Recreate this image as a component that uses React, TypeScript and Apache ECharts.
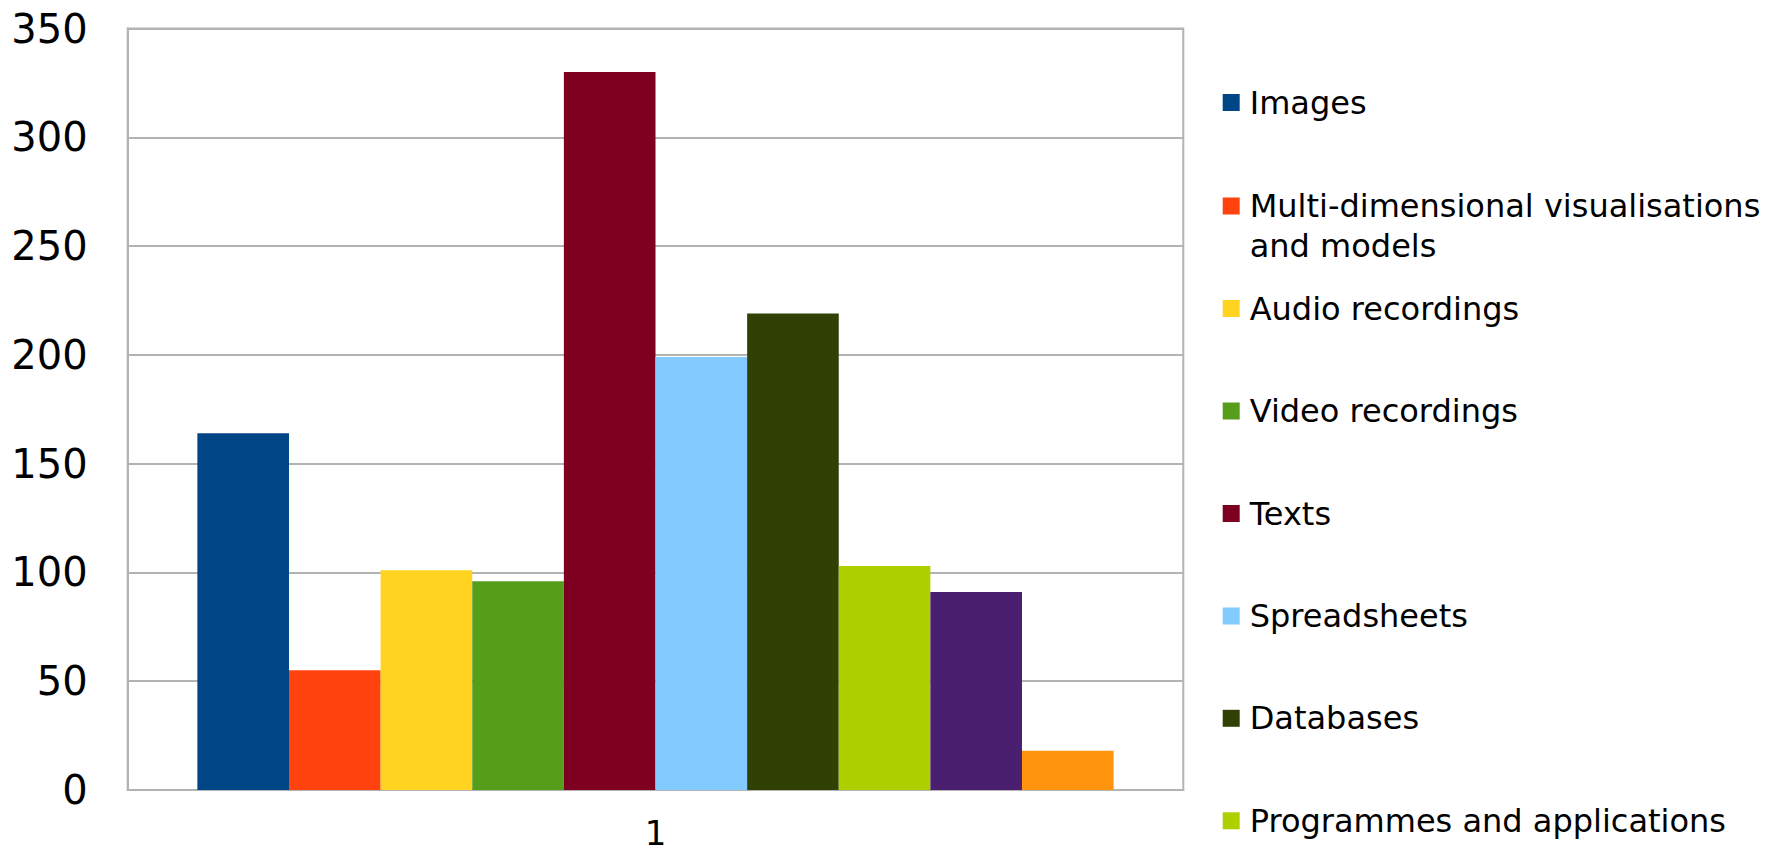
import React, { useEffect, useRef } from "react";
import * as echarts from "echarts";

const categories = ["1"];
const seriesNames = [
  "Images",
  "Multi-dimensional visualisations and models",
  "Audio recordings",
  "Video recordings",
  "Texts",
  "Spreadsheets",
  "Databases",
  "Programmes and applications",
  "Other data",
  "Other",
];
const seriesValues = [164, 55, 101, 96, 330, 199, 219, 103, 91, 18];
const seriesColors = [
  "#004586",
  "#ff420e",
  "#ffd320",
  "#579d1c",
  "#7e0021",
  "#83caff",
  "#314004",
  "#aecf00",
  "#4b1f6f",
  "#ff950e",
];
const legendNames = seriesNames.slice(0, 8);
const legendWrap: Record<string, string> = {
  "Multi-dimensional visualisations and models": "\nMulti-dimensional visualisations\nand models",
};
const yTicks = { min: 0, max: 350, interval: 50 };

const FONT = "DejaVu Sans";

export default function App() {
  const ref = useRef<HTMLDivElement>(null);
  useEffect(() => {
    if (!ref.current) return;
    const chart = echarts.init(ref.current, null, { renderer: "svg" });
    const legendCenters = [102.5, 206, 308.5, 411, 513.5, 616, 718.3, 820.8];
    const LH = 40;
    const legends = legendNames.map((name, i) => {
      const wrapped = !!legendWrap[name];
      return {
        data: [name],
        orient: "vertical",
        left: 1222.7,
        top: wrapped ? legendCenters[i] - 1.5 * LH : legendCenters[i] - LH / 2,
        padding: 0,
        itemWidth: 17,
        itemHeight: 17,
        icon: "rect",
        selectedMode: false,
        formatter: (n: string) => legendWrap[n] || n,
        textStyle: {
          fontFamily: FONT,
          fontSize: 32,
          color: "#000",
          lineHeight: LH,
          padding: [0, 0, 0, 5],
        },
      };
    });
    chart.setOption({
      animation: false,
      backgroundColor: "#fff",
      grid: {
        left: 127.7,
        top: 28.6,
        right: 1785 - 1183.3,
        bottom: 857 - 790,
        show: true,
        borderColor: "#b3b3b3",
        borderWidth: 2,
      },
      legend: legends,
      xAxis: {
        type: "category",
        data: categories,
        axisLine: { show: true, lineStyle: { color: "#b3b3b3", width: 2 } },
        axisTick: { show: false },
        axisLabel: {
          fontFamily: FONT,
          fontSize: 34,
          color: "#000",
          margin: 26,
        },
      },
      yAxis: {
        type: "value",
        min: yTicks.min,
        max: yTicks.max,
        interval: yTicks.interval,
        axisLine: { show: true, lineStyle: { color: "#b3b3b3", width: 2 } },
        axisTick: { show: false },
        splitLine: { lineStyle: { color: "#b3b3b3", width: 2 } },
        axisLabel: { fontFamily: FONT, fontSize: 40, color: "#000", margin: 40 },
      },
      series: seriesNames.map((name, i) => ({
        name,
        type: "bar",
        data: [seriesValues[i]],
        itemStyle: { color: seriesColors[i] },
        barGap: "0%",
        barCategoryGap: "13.2%",
      })),
    });
    return () => chart.dispose();
  }, []);
  return (
    <div
      ref={ref}
      style={{ position: "fixed", left: 0, top: 0, width: 1785, height: 857 }}
    />
  );
}
